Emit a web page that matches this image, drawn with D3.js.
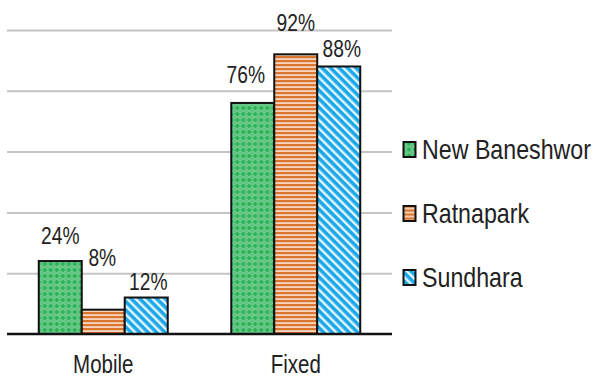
<!DOCTYPE html>
<html><head><meta charset="utf-8">
<script src="https://cdn.jsdelivr.net/npm/d3@7/dist/d3.min.js"></script>
<style>html,body{margin:0;padding:0;background:#fff;}svg{display:block;}</style>
</head><body>
<svg id="c" width="593" height="379"></svg>
<script>
// ---- data ----
const categories = ["Mobile", "Fixed"];
const seriesNames = ["New Baneshwor", "Ratnapark", "Sundhara"];
const newBaneshwor = [24, 76];
const ratnapark = [8, 92];
const sundhara = [12, 88];
const gridTicks = [20, 40, 60, 80, 100];

// ---- layout (not data) ----
const seriesValues = [newBaneshwor, ratnapark, sundhara];
const labelLift = [[17, 20], [44, 23], [8, 9]];   // label offset above bar top
const labelShift = [[0, -7], [-1, 0], [2, 3]];    // horizontal nudge
const FONT = "'Liberation Sans', Arial, sans-serif";

const svg = d3.select("#c");
const defs = svg.append("defs");

// green diamond/confetti pattern
const pg = defs.append("pattern").attr("id", "pGreen").attr("patternUnits", "userSpaceOnUse")
  .attr("width", 6).attr("height", 6);
pg.append("rect").attr("width", 6).attr("height", 6).attr("fill", "#2fb25a");
pg.append("path").attr("d", "M3 0.5 L5.5 3 L3 5.5 L0.5 3 Z").attr("fill", "none").attr("stroke", "#a6e3b8").attr("stroke-width", 1);
pg.append("rect").attr("x", 2.5).attr("y", 2.5).attr("width", 1).attr("height", 1).attr("fill", "#e4f7ea");

// orange horizontal stripes
const po = defs.append("pattern").attr("id", "pOrange").attr("patternUnits", "userSpaceOnUse")
  .attr("width", 4).attr("height", 4);
po.append("rect").attr("width", 4).attr("height", 4).attr("fill", "#f6d6bc");
po.append("rect").attr("y", 0).attr("width", 4).attr("height", 2.2).attr("fill", "#d9752f");

// blue diagonal stripes (\)
const pb = defs.append("pattern").attr("id", "pBlue").attr("patternUnits", "userSpaceOnUse")
  .attr("width", 6).attr("height", 6).attr("patternTransform", "rotate(-45)");
pb.append("rect").attr("width", 6).attr("height", 6).attr("fill", "#1ba8e8");
pb.append("rect").attr("x", 0).attr("width", 2.4).attr("height", 6).attr("fill", "#e8f7fe");

const fills = ["url(#pGreen)", "url(#pOrange)", "url(#pBlue)"];

const x0 = d3.scaleBand().domain(categories).range([7, 392]).paddingInner(0.33).paddingOuter(0.165);
const x1 = d3.scaleBand().domain(seriesNames).range([0, x0.bandwidth()]).padding(0);
const y = d3.scaleLinear().domain([0, 100]).range([334, 30]);

// gridlines
const grid = svg.append("g").attr("transform", "translate(7,0)")
  .call(d3.axisLeft(y).tickValues(gridTicks).tickSize(-385).tickFormat(""));
grid.select(".domain").remove();
grid.selectAll("line").attr("stroke", "#c4c4c4").attr("stroke-width", 2);

// bars
const groups = svg.append("g").selectAll("g").data(categories).join("g")
  .attr("transform", d => `translate(${x0(d)},0)`);
groups.selectAll("rect")
  .data((c, ci) => seriesNames.map((s, si) => ({ s, si, ci, v: seriesValues[si][ci] })))
  .join("rect")
  .attr("x", d => x1(d.s))
  .attr("y", d => y(d.v))
  .attr("width", x1.bandwidth())
  .attr("height", d => y(0) - y(d.v))
  .attr("fill", d => fills[d.si])
  .attr("stroke", "#111")
  .attr("stroke-width", 2);

// value labels
groups.selectAll("text.val")
  .data((c, ci) => seriesNames.map((s, si) => ({ s, si, ci, v: seriesValues[si][ci] })))
  .join("text").attr("class", "val")
  .attr("transform", d => `translate(${x1(d.s) + x1.bandwidth() / 2 + labelShift[d.si][d.ci]},${y(d.v) - labelLift[d.si][d.ci]}) scale(0.8,1)`)
  .attr("text-anchor", "middle")
  .attr("font-family", FONT).attr("font-size", 24).attr("fill", "#222")
  .text(d => d.v + "%");

// baseline
svg.append("line").attr("x1", 7).attr("x2", 392).attr("y1", y(0)).attr("y2", y(0))
  .attr("stroke", "#111").attr("stroke-width", 2.5);

// category axis
const xa = svg.append("g").attr("transform", `translate(0,${y(0)})`)
  .call(d3.axisBottom(x0).tickSize(0).tickPadding(0));
xa.select(".domain").remove();
xa.selectAll(".tick text")
  .attr("y", 0).attr("dy", 0)
  .attr("transform", `translate(0,39) scale(0.82,1)`)
  .attr("font-family", FONT).attr("font-size", 25).attr("fill", "#222");

// legend
const leg = svg.append("g").selectAll("g").data(seriesNames).join("g")
  .attr("transform", (d, i) => `translate(403,${149.5 + i * 64})`);
leg.append("rect").attr("x", 0.5).attr("y", -7.5).attr("width", 12).attr("height", 15)
  .attr("fill", (d, i) => fills[i]).attr("stroke", "#111").attr("stroke-width", 2);
leg.append("text")
  .attr("transform", `translate(19,9.5) scale(0.86,1)`)
  .attr("font-family", FONT).attr("font-size", 27).attr("fill", "#222")
  .text(d => d);
</script>
</body></html>
